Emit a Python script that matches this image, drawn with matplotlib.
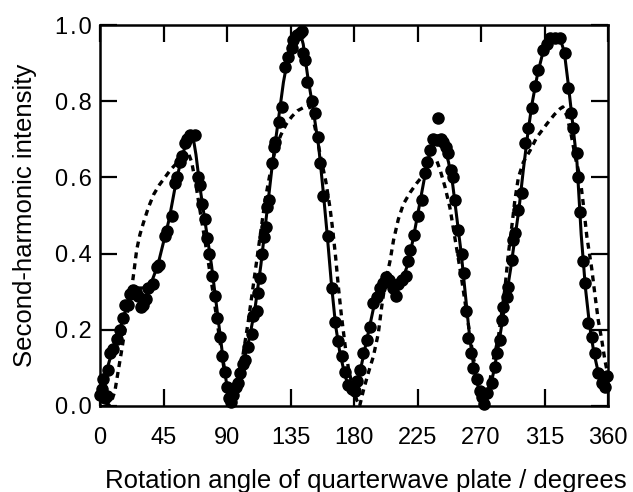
import matplotlib
matplotlib.use("Agg")
import matplotlib.pyplot as plt

# measured second-harmonic intensity (dots)
meas_deg = [0.0, 1.5, 2.4, 3.5, 4.7, 5.9, 7.1, 9.4, 11.8, 14.2, 16.5, 17.7, 19.5, 21.3, 23.6,
            25.5, 27.1, 29.0, 30.7, 32.5, 34.2, 37.8, 40.2, 42.0, 46.1, 47.3, 50.8, 53.2, 54.3,
            56.7, 57.9, 60.2, 62.0, 64.0, 67.0, 69.7, 70.9, 72.0, 74.4, 75.8, 77.5, 79.5, 81.5,
            83.0, 84.8, 86.5, 88.3, 90.0, 91.5, 93.0, 94.5,
            96.5, 98.0, 99.2, 101.0, 102.8, 105.1, 107.5, 108.7, 111.0, 112.2, 113.4, 114.6,
            116.5, 117.4, 118.1, 119.8, 121.7, 123.3, 124.0, 126.9, 128.8, 131.1, 133.5, 135.8,
            137.0, 139.4, 141.7, 143.0, 144.1, 145.3, 146.5, 150.0, 152.4, 154.7, 155.9, 158.3,
            161.8, 164.2, 166.5, 168.9, 171.3, 173.6, 175.6, 178.4, 180.5, 182.0,
            184.3, 186.6, 189.0, 191.4, 193.7, 196.1, 198.4, 200.8, 203.0, 205.0, 207.5, 209.5,
            211.5, 213.8, 216.5, 218.5, 219.7, 222.5, 225.6, 228.0, 230.3, 232.0, 233.9, 236.2,
            238.6, 239.8, 241.5, 243.3, 245.0, 246.9, 248.5, 250.4, 251.6, 254.0, 256.3, 258.0,
            259.5, 261.0, 263.0, 264.6, 267.0, 269.0, 270.5, 272.0, 274.0, 277.6,
            279.9, 281.1, 283.5, 284.7, 285.8, 288.2, 289.4, 291.8, 293.0, 294.1, 296.5, 298.9,
            301.2, 303.6, 306.0, 308.5, 310.7, 314.2, 316.5, 318.9, 322.5, 326.0, 329.6, 331.9,
            334.0, 335.5, 337.8, 339.0, 340.2, 342.0, 343.7, 346.0, 348.5, 350.8, 353.0, 355.5,
            357.8, 359.1]
meas_val = [0.03, 0.045, 0.07, 0.02, 0.025, 0.095, 0.14, 0.15, 0.175, 0.20, 0.23, 0.265, 0.265, 0.295, 0.305,
            0.30, 0.29, 0.26, 0.265, 0.28, 0.31, 0.32, 0.365, 0.37, 0.445, 0.46, 0.50, 0.585, 0.60,
            0.64, 0.655, 0.69, 0.70, 0.71, 0.71, 0.60, 0.58, 0.53, 0.49, 0.44, 0.40, 0.34, 0.29,
            0.23, 0.18, 0.13, 0.09, 0.05, 0.02, 0.01, 0.03,
            0.05, 0.06, 0.086, 0.11, 0.12, 0.156, 0.19, 0.235, 0.25, 0.296, 0.335, 0.40,
            0.444, 0.47, 0.523, 0.541, 0.637, 0.681, 0.694, 0.746, 0.786, 0.89, 0.917, 0.939,
            0.961, 0.974, 0.978, 0.985, 0.926, 0.908, 0.85, 0.80, 0.77, 0.707, 0.637, 0.55,
            0.445, 0.31, 0.22, 0.17, 0.13, 0.09, 0.055, 0.045, 0.04, 0.065,
            0.094, 0.139, 0.173, 0.208, 0.27, 0.287, 0.31, 0.322, 0.339, 0.33, 0.31, 0.29,
            0.32, 0.331, 0.34, 0.38, 0.409, 0.45, 0.50, 0.54, 0.611, 0.64, 0.672, 0.70,
            0.698, 0.755, 0.70, 0.694, 0.68, 0.663, 0.62, 0.60, 0.541, 0.462, 0.40, 0.35,
            0.25, 0.178, 0.14, 0.10, 0.07, 0.04, 0.024, 0.005, 0.034, 0.06,
            0.103, 0.139, 0.173, 0.226, 0.261, 0.287, 0.313, 0.383, 0.436, 0.454, 0.514, 0.558,
            0.69, 0.73, 0.782, 0.84, 0.882, 0.934, 0.95, 0.966, 0.966, 0.966, 0.926, 0.835,
            0.77, 0.73, 0.663, 0.60, 0.51, 0.38, 0.323, 0.218, 0.182, 0.139, 0.087, 0.06,
            0.05, 0.08]

# fitted curve (solid)
fit_deg = [0, 3, 6, 10, 14, 18, 21, 24, 28, 33, 37, 41, 45, 49, 53, 57, 61, 64, 66, 68, 71, 75,
           79, 83, 87, 90, 92.5, 95, 98, 102, 106, 110, 114, 118, 122, 126, 130, 134, 138, 141.5,
           144, 147, 151, 155, 158, 161, 164, 167, 170, 173, 176, 179, 182, 186, 190, 194, 198,
           202, 206, 210, 214, 218, 222, 226, 230, 234, 238, 241, 244, 247, 250, 253, 256, 259,
           262, 265, 268, 271, 273, 276, 279, 282, 285, 288, 291, 294, 297, 300, 303, 306, 310,
           314, 318, 322, 326, 329, 332, 335, 338, 341, 344, 347, 350, 353, 356, 360]
fit_val = [0.02, 0.06, 0.11, 0.16, 0.20, 0.25, 0.29, 0.31, 0.31, 0.31, 0.33, 0.37, 0.43, 0.49,
           0.57, 0.64, 0.69, 0.71, 0.705, 0.66, 0.57, 0.47, 0.37, 0.25, 0.13, 0.05, 0.01, 0.03,
           0.07, 0.12, 0.18, 0.26, 0.37, 0.50, 0.63, 0.74, 0.85, 0.93, 0.97, 0.985, 0.95, 0.87,
           0.78, 0.68, 0.57, 0.45, 0.32, 0.21, 0.14, 0.09, 0.05, 0.035, 0.05, 0.12, 0.19, 0.26,
           0.30, 0.32, 0.325, 0.32, 0.33, 0.37, 0.44, 0.52, 0.60, 0.67, 0.70, 0.70, 0.68, 0.64,
           0.58, 0.49, 0.40, 0.29, 0.18, 0.10, 0.05, 0.015, 0.01, 0.04, 0.09, 0.15, 0.22, 0.29,
           0.36, 0.44, 0.52, 0.62, 0.71, 0.79, 0.87, 0.93, 0.96, 0.97, 0.965, 0.93, 0.84, 0.74,
           0.64, 0.45, 0.31, 0.21, 0.14, 0.09, 0.06, 0.06]

# calculated curve (dashed)
calc_deg = [0, 3, 5, 8, 10.6, 13, 15.4, 17.7, 20, 22.5, 24.3, 26, 28.3, 30.7, 34.2, 38, 42, 46,
            50, 55, 60, 63, 65, 68, 71, 75, 80, 85, 89, 92, 94,
            96, 99, 102, 105, 108, 111, 114, 117, 120, 124, 128, 132, 136, 140, 145, 148, 150,
            153, 156, 160, 163, 165, 167, 169, 171, 174, 176, 179, 182, 184,
            186.6, 190, 193.7, 197.2, 199.6, 202, 205.5, 208, 211.4, 215, 219.7, 224.5, 230,
            235, 238.5, 241, 244.5, 248, 252, 256, 260, 264, 268, 271, 273,
            275, 276.4, 278.7, 282.3, 284.7, 287, 289.4, 291.8, 294, 296.5, 300, 304.7, 309.5,
            316.6, 322, 326, 328, 331, 334, 337, 340.2, 342.5, 345, 348.5, 350.8, 353.1, 355.5,
            357.8, 360]
calc_val = [0.06, 0.01, 0.0, 0.01, 0.04, 0.094, 0.147, 0.20, 0.26, 0.31, 0.36, 0.41, 0.45, 0.48,
            0.52, 0.555, 0.58, 0.60, 0.62, 0.64, 0.655, 0.66, 0.64, 0.58, 0.51, 0.42, 0.30, 0.17,
            0.07, 0.01, 0.0,
            0.02, 0.08, 0.15, 0.22, 0.30, 0.38, 0.46, 0.54, 0.60, 0.67, 0.71, 0.74, 0.76, 0.775,
            0.785, 0.79, 0.77, 0.72, 0.66, 0.59, 0.52, 0.46, 0.39, 0.31, 0.24, 0.15, 0.10, 0.05,
            0.015, 0.0,
            0.04, 0.085, 0.13, 0.19, 0.26, 0.32, 0.38, 0.435, 0.49, 0.53, 0.56, 0.585, 0.61,
            0.64, 0.645, 0.62, 0.575, 0.52, 0.43, 0.34, 0.24, 0.14, 0.06, 0.02, 0.0,
            0.03, 0.068, 0.12, 0.18, 0.245, 0.31, 0.40, 0.47, 0.54, 0.60, 0.64, 0.67, 0.705,
            0.74, 0.765, 0.78, 0.785, 0.76, 0.71, 0.65, 0.60, 0.53, 0.445, 0.36, 0.29, 0.225,
            0.175, 0.12, 0.08]

x_ticks = [0, 45, 90, 135, 180, 225, 270, 315, 360]
y_ticks = [0.0, 0.2, 0.4, 0.6, 0.8, 1.0]

plt.rcParams["font.family"] = ["Liberation Sans", "DejaVu Sans"]

fig = plt.figure(figsize=(6.33, 4.92), dpi=100)
ax = fig.add_axes([100 / 633, 86 / 492, 508 / 633, 381 / 492])

ax.plot(calc_deg, calc_val, color="black", lw=2.4, linestyle=(0, (1.8, 1.5)), zorder=2)
ax.plot(fit_deg, fit_val, color="black", lw=2.2, zorder=3)
ax.plot(meas_deg, meas_val, "o", color="black", markersize=8, zorder=4, clip_on=False)

ax.set_xlim(0, 360)
ax.set_ylim(0, 1.0)
ax.set_xticks(x_ticks)
ax.set_yticks(y_ticks)
# the original y tick labels are slightly letter-spaced
ax.set_yticklabels(["\u200a".join(f"{v:.1f}") for v in y_ticks])
ax.tick_params(direction="in", length=12, width=1.6, labelsize=17,
               top=True, right=True)
ax.tick_params(axis="x", pad=15)
ax.tick_params(axis="y", pad=6)
for s in ax.spines.values():
    s.set_linewidth(1.8)

ax.set_xlabel("Rotation angle of quarterwave plate / degrees", fontsize=18.5)
ax.set_ylabel("Second-harmonic intensity", fontsize=18.5)
ax.xaxis.set_label_coords(0.5236, -0.165)
ax.yaxis.set_label_coords(-0.124, 0.5)

fig.savefig("out.png", dpi=100)
